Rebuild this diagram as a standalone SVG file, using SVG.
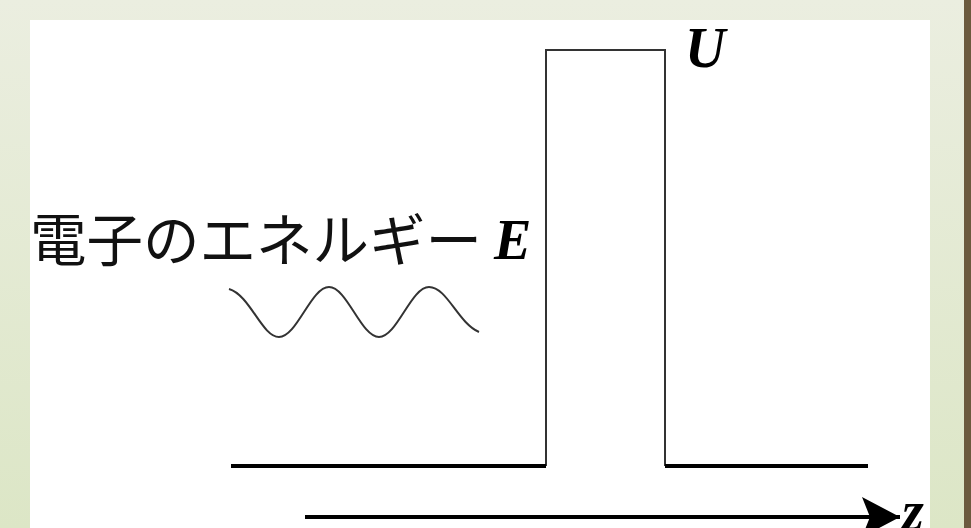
<svg xmlns="http://www.w3.org/2000/svg" width="971" height="528" viewBox="0 0 971 528">
  <defs>
    <linearGradient id="bg" x1="0" y1="0" x2="0" y2="1">
      <stop offset="0" stop-color="#ebeee0"/>
      <stop offset="1" stop-color="#dce6c6"/>
    </linearGradient>
    <marker id="arr" markerWidth="40" markerHeight="40" refX="38" refY="20" orient="auto" markerUnits="userSpaceOnUse">
      <path d="M0,0 L38,20 L0,40 L8,20 Z" fill="#000"/>
    </marker>
    <style>
      .thin { fill: none; stroke: #333; stroke-width: 2; }
      .base { fill: none; stroke: #000; stroke-width: 4; }
      .jp { font-family: "Noto Sans CJK JP", "Noto Sans", sans-serif; font-size: 56.5px; fill: #111; }
      .var { font-family: "Liberation Serif", "DejaVu Serif", serif; font-weight: bold; font-style: italic; font-size: 56px; fill: #000; }
    </style>
  </defs>
  <rect x="0" y="0" width="971" height="528" fill="url(#bg)"/>
  <rect x="964" y="0" width="7" height="528" fill="#6b5a3e"/>
  <rect x="30" y="20" width="900" height="508" fill="#fff"/>

  <g id="barrier">
    <path class="thin" d="M546,466 L546,50 L665,50 L665,466"/>
    <text class="var" x="685" y="67">U</text>
  </g>
  <g id="ground">
    <path class="base" d="M231,466 L546,466"/>
    <path class="base" d="M665,466 L868,466"/>
  </g>
  <g id="electron">
    <text class="jp" x="30" y="261">電子のエネルギー</text>
    <text class="var" x="494" y="259">E</text>
    <path class="thin" d="M229,289 C250,295 262,337 279,337 C297,337 311,287 329,287 C347,287 361,337 379,337 C397,337 411,287 429,287 C447,287 458,323 479,332"/>
  </g>
  <g id="connectors">
    <line x1="305" y1="517" x2="900" y2="517" stroke="#000" stroke-width="4" marker-end="url(#arr)"/>
  </g>
  <g id="axis-label">
    <text class="var" x="902" y="530">z</text>
  </g>
</svg>
